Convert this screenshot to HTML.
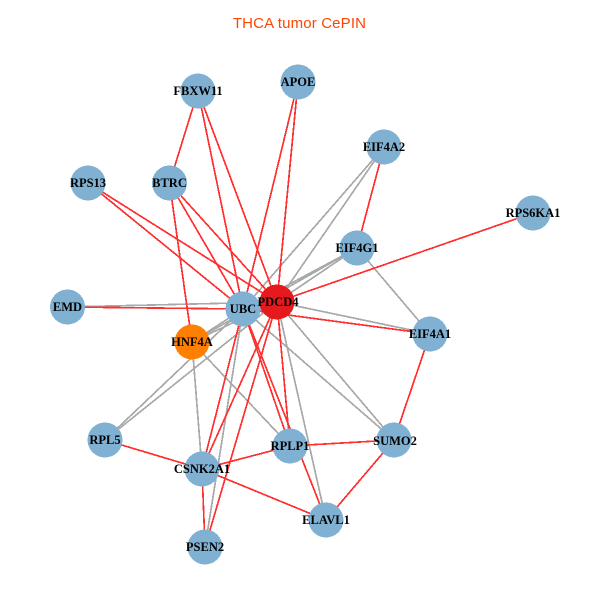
<!DOCTYPE html>
<html><head><meta charset="utf-8"><style>
html,body{margin:0;padding:0;background:#fff}
svg{display:block}
.g line{stroke:#A9A9A9;stroke-width:1.7}
.r line{stroke:#FF3030;stroke-width:1.7}
text.n{font:bold 12.5px "Liberation Serif",serif;text-anchor:middle;fill:#000}
</style></head><body>
<svg width="600" height="600" viewBox="0 0 600 600" xmlns="http://www.w3.org/2000/svg">
<rect width="600" height="600" fill="#fff"/>
<text x="299.500" y="28" font-family="Liberation Sans, sans-serif" font-size="15" letter-spacing="0.15" fill="#FF4500" text-anchor="middle">THCA tumor CePIN</text>
<g class="g" shape-rendering="crispEdges">
<line x1="384" y1="147" x2="243" y2="309"/>
<line x1="384" y1="147" x2="277" y2="302"/>
<line x1="357" y1="248" x2="243" y2="309"/>
<line x1="357" y1="248" x2="277" y2="302"/>
<line x1="357" y1="248" x2="192" y2="342"/>
<line x1="357" y1="248" x2="430" y2="334"/>
<line x1="67.500" y1="307" x2="277" y2="302"/>
<line x1="192" y1="342" x2="243" y2="309"/>
<line x1="192" y1="342" x2="277" y2="302"/>
<line x1="192" y1="342" x2="290" y2="446"/>
<line x1="192" y1="342" x2="202" y2="469"/>
<line x1="105" y1="440" x2="243" y2="309"/>
<line x1="105" y1="440" x2="277" y2="302"/>
<line x1="205" y1="547" x2="243" y2="309"/>
<line x1="243" y1="309" x2="394" y2="440"/>
<line x1="277" y1="302" x2="394" y2="440"/>
<line x1="277" y1="302" x2="326" y2="520"/>
<line x1="277" y1="302" x2="430" y2="334"/>
</g>
<g class="r" shape-rendering="crispEdges">
<line x1="198" y1="91" x2="169.500" y2="183"/>
<line x1="198" y1="91" x2="243" y2="309"/>
<line x1="198" y1="91" x2="277" y2="302"/>
<line x1="298" y1="82" x2="243" y2="309"/>
<line x1="298" y1="82" x2="277" y2="302"/>
<line x1="384" y1="147" x2="357" y2="248"/>
<line x1="169.500" y1="183" x2="192" y2="342"/>
<line x1="169.500" y1="183" x2="243" y2="309"/>
<line x1="169.500" y1="183" x2="277" y2="302"/>
<line x1="88" y1="183" x2="243" y2="309"/>
<line x1="88" y1="183" x2="277" y2="302"/>
<line x1="67.500" y1="307" x2="243" y2="309"/>
<line x1="533" y1="213" x2="277" y2="302"/>
<line x1="243" y1="309" x2="430" y2="334"/>
<line x1="430" y1="334" x2="394" y2="440"/>
<line x1="394" y1="440" x2="290" y2="446"/>
<line x1="394" y1="440" x2="326" y2="520"/>
<line x1="290" y1="446" x2="202" y2="469"/>
<line x1="202" y1="469" x2="326" y2="520"/>
<line x1="105" y1="440" x2="202" y2="469"/>
<line x1="202" y1="469" x2="205" y2="547"/>
<line x1="202" y1="469" x2="243" y2="309"/>
<line x1="202" y1="469" x2="277" y2="302"/>
<line x1="205" y1="547" x2="277" y2="302"/>
<line x1="243" y1="309" x2="290" y2="446"/>
<line x1="243" y1="309" x2="326" y2="520"/>
<line x1="277" y1="302" x2="290" y2="446"/>
</g>
<g fill="#80B1D3" shape-rendering="crispEdges">
<circle cx="198" cy="91" r="17.500"/>
<circle cx="298" cy="82" r="17.500"/>
<circle cx="384" cy="147" r="17.500"/>
<circle cx="169.500" cy="183" r="17.500"/>
<circle cx="357" cy="248" r="17.500"/>
<circle cx="88" cy="183" r="17.500"/>
<circle cx="67.500" cy="307" r="17.500"/>
<circle cx="533" cy="213" r="17.500"/>
<circle cx="243" cy="309" r="17.500"/>
<circle cx="430" cy="334" r="17.500"/>
<circle cx="394" cy="440" r="17.500"/>
<circle cx="290" cy="446" r="17.500"/>
<circle cx="326" cy="520" r="17.500"/>
<circle cx="202" cy="469" r="17.500"/>
<circle cx="105" cy="440" r="17.500"/>
<circle cx="205" cy="547" r="17.500"/>
<circle cx="192" cy="342" r="17.500" fill="#FF7F00"/>
<circle cx="277" cy="302" r="17.500" fill="#E41A1C"/>
</g>
<text class="n" x="198" y="95">FBXW11</text>
<text class="n" x="298" y="86">APOE</text>
<text class="n" x="384" y="151">EIF4A2</text>
<text class="n" x="169.500" y="187">BTRC</text>
<text class="n" x="357" y="252">EIF4G1</text>
<text class="n" x="88" y="187">RPS13</text>
<text class="n" x="67.500" y="311">EMD</text>
<text class="n" x="533" y="217">RPS6KA1</text>
<text class="n" x="243" y="313">UBC</text>
<text class="n" x="278" y="306">PDCD4</text>
<text class="n" x="430" y="338">EIF4A1</text>
<text class="n" x="395" y="445">SUMO2</text>
<text class="n" x="290" y="450">RPLP1</text>
<text class="n" x="326" y="524">ELAVL1</text>
<text class="n" x="202" y="473">CSNK2A1</text>
<text class="n" x="105" y="444">RPL5</text>
<text class="n" x="205" y="551">PSEN2</text>
<text class="n" x="192" y="346">HNF4A</text>
</svg>
</body></html>
